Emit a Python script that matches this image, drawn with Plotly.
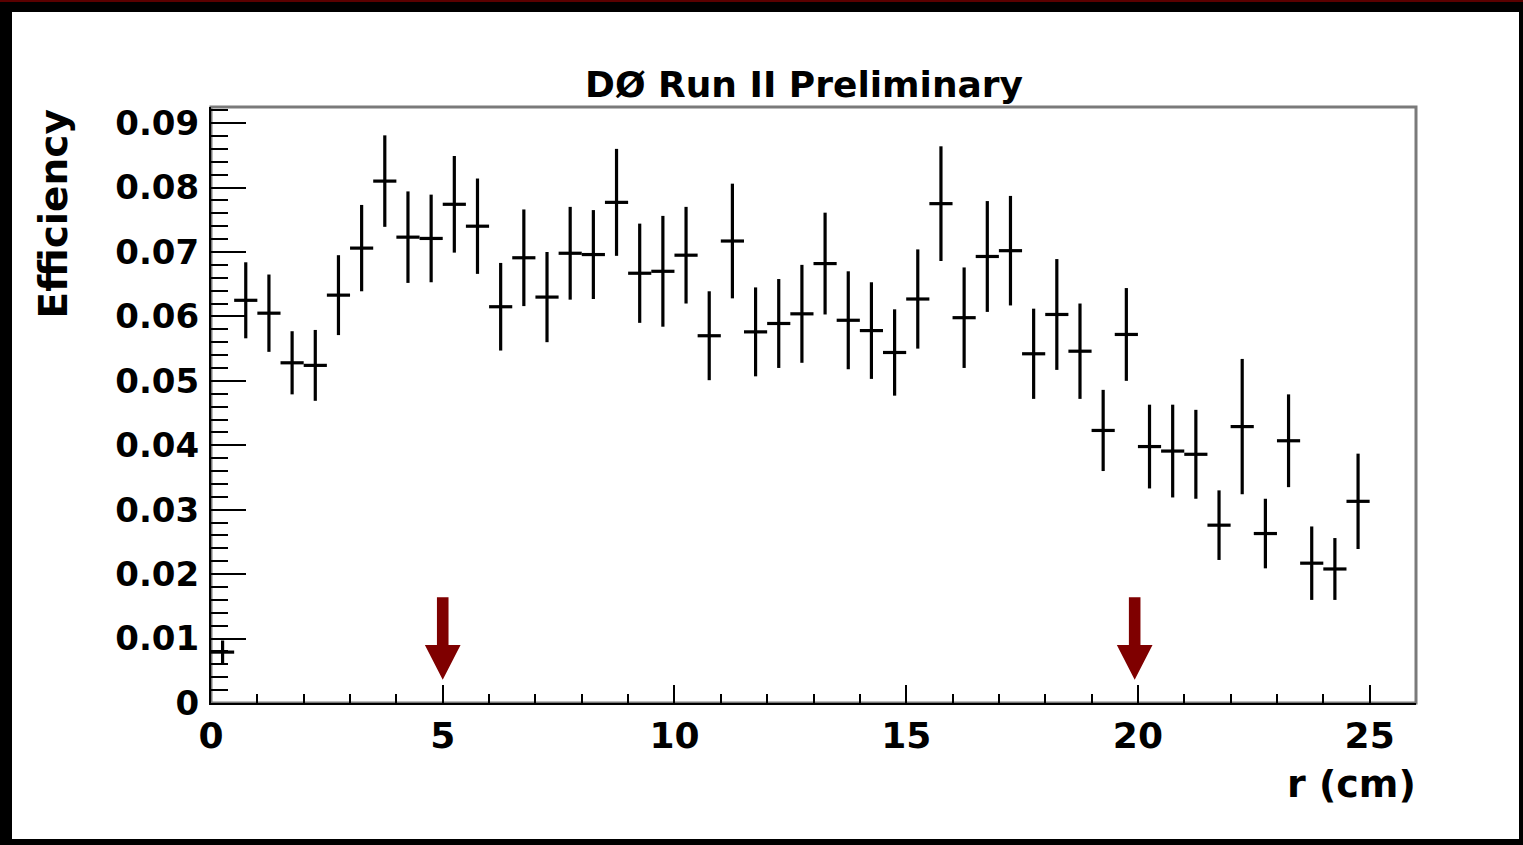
import plotly.graph_objects as go

# Bin centres of the radial distribution (cm), 0.5 cm bins
r_cm = [0.25, 0.75, 1.25, 1.75, 2.25, 2.75, 3.25, 3.75, 4.25, 4.75,
        5.25, 5.75, 6.25, 6.75, 7.25, 7.75, 8.25, 8.75, 9.25, 9.75,
        10.25, 10.75, 11.25, 11.75, 12.25, 12.75, 13.25, 13.75, 14.25, 14.75,
        15.25, 15.75, 16.25, 16.75, 17.25, 17.75, 18.25, 18.75, 19.25, 19.75,
        20.25, 20.75, 21.25, 21.75, 22.25, 22.75, 23.25, 23.75, 24.25, 24.75]
bin_half_width = [0.25] * len(r_cm)

efficiency = [0.0079, 0.0625, 0.0605, 0.0528, 0.0524, 0.0633, 0.0706, 0.0810, 0.0723, 0.0721,
              0.0774, 0.0740, 0.0615, 0.0691, 0.0630, 0.0698, 0.0696, 0.0777, 0.0667, 0.0670,
              0.0695, 0.0570, 0.0717, 0.0576, 0.0589, 0.0604, 0.0682, 0.0594, 0.0578, 0.0544,
              0.0627, 0.0775, 0.0598, 0.0693, 0.0702, 0.0542, 0.0603, 0.0546, 0.0423, 0.0572,
              0.0398, 0.0391, 0.0386, 0.0276, 0.0429, 0.0263, 0.0407, 0.0217, 0.0208, 0.0313]

efficiency_err = [0.0018, 0.0059, 0.0060, 0.0049, 0.0055, 0.0062, 0.0067, 0.0071, 0.0071, 0.0068,
                  0.0075, 0.0074, 0.0068, 0.0075, 0.0070, 0.0072, 0.0069, 0.0083, 0.0077, 0.0086,
                  0.0075, 0.0069, 0.0089, 0.0069, 0.0069, 0.0076, 0.0079, 0.0076, 0.0075, 0.0067,
                  0.0077, 0.0089, 0.0078, 0.0086, 0.0085, 0.0070, 0.0086, 0.0074, 0.0063, 0.0072,
                  0.0065, 0.0072, 0.0069, 0.0054, 0.0105, 0.0054, 0.0072, 0.0057, 0.0048, 0.0074]

# Radial cut positions marked with arrows (cm)
cut_positions = [5.0, 19.93]

x_ticks = [0, 5, 10, 15, 20, 25]
y_ticks = [0, 0.01, 0.02, 0.03, 0.04, 0.05, 0.06, 0.07, 0.08, 0.09]
y_tick_text = ["0", "0.01", "0.02", "0.03", "0.04", "0.05", "0.06", "0.07", "0.08", "0.09"]

W, H = 1523, 845
L, R, T, B = 211, 107, 107, 142
plot_w = W - L - R
plot_h = H - T - B


def px_x(px):
    return (px - L) / plot_w


def px_y(py):
    return (H - B - py) / plot_h


FONT = "DejaVu Sans"
DARK_RED = "#7f0000"

fig = go.Figure()
fig.add_trace(go.Scatter(
    x=r_cm, y=efficiency,
    mode="markers",
    marker=dict(size=1, color="black"),
    error_y=dict(type="data", array=efficiency_err, visible=True,
                 color="black", thickness=3.2, width=0),
    error_x=dict(type="data", array=bin_half_width, visible=True,
                 color="black", thickness=3.2, width=0),
    showlegend=False,
    hoverinfo="skip",
))

shapes = []
# grey frame around the plotting area
shapes.append(dict(type="rect", xref="paper", yref="paper", x0=0, x1=1, y0=0, y1=1,
                   line=dict(color="#7a7a7a", width=3), layer="below"))

# block arrows marking the cuts
shaft_hw, head_hw = 0.125, 0.385
y_top, y_neck, y_tip = 0.0164, 0.0090, 0.0036
for c in cut_positions:
    path = (f"M {c - shaft_hw},{y_top} L {c + shaft_hw},{y_top} L {c + shaft_hw},{y_neck} "
            f"L {c + head_hw},{y_neck} L {c},{y_tip} L {c - head_hw},{y_neck} "
            f"L {c - shaft_hw},{y_neck} Z")
    shapes.append(dict(type="path", xref="x", yref="y", path=path,
                       fillcolor=DARK_RED, line=dict(width=0), layer="above"))

# black canvas border with a thin dark-red rim on top
border = [
    (0, W, 0, 12, "black"),
    (0, 12, 0, H, "black"),
    (W - 4, W, 0, H, "black"),
    (0, W, H - 6, H, "black"),
    (0, W, 0, 2, "#5a0000"),
]
for x0, x1, y0, y1, col in border:
    shapes.append(dict(type="rect", xref="paper", yref="paper",
                       x0=px_x(x0), x1=px_x(x1), y0=px_y(y1), y1=px_y(y0),
                       fillcolor=col, line=dict(width=0), layer="above"))

annotations = [
    dict(text="DØ Run II Preliminary", xref="paper", yref="paper",
         x=px_x(804), y=px_y(84), xanchor="center", yanchor="middle",
         showarrow=False, font=dict(family=FONT, size=36, color="black", weight="bold")),
    dict(text="Efficiency", xref="paper", yref="paper",
         x=px_x(53), y=px_y(108), xanchor="center", yanchor="top", textangle=-90,
         showarrow=False, font=dict(family=FONT, size=39, color="black", weight="bold")),
    dict(text="r (cm)", xref="paper", yref="paper",
         x=px_x(1418), y=px_y(784), xanchor="right", yanchor="middle",
         showarrow=False, font=dict(family=FONT, size=38, color="black", weight="bold")),
]

fig.update_layout(
    width=W, height=H,
    margin=dict(l=L, r=R, t=T, b=B, pad=0),
    paper_bgcolor="white",
    plot_bgcolor="white",
    shapes=shapes,
    annotations=annotations,
    xaxis=dict(
        range=[0, 26], tickvals=x_ticks, ticks="inside", ticklen=18, tickwidth=2,
        tickcolor="black", showline=True, linecolor="black", linewidth=2,
        showgrid=False, zeroline=False, ticklabelstandoff=0,
        tickfont=dict(family=FONT, size=36, color="black", weight="bold"),
        minor=dict(dtick=1, ticks="inside", ticklen=9, tickwidth=2, tickcolor="black",
                   showgrid=False),
    ),
    yaxis=dict(
        range=[0, 0.0925], tickvals=y_ticks, ticktext=y_tick_text, ticks="inside",
        ticklen=35, tickwidth=2, tickcolor="black", showline=True, linecolor="black",
        linewidth=2, showgrid=False, zeroline=False, ticklabelstandoff=3,
        tickfont=dict(family=FONT, size=34, color="black", weight="bold"),
        minor=dict(tick0=0, dtick=0.002, ticks="inside", ticklen=17, tickwidth=2,
                   tickcolor="black", showgrid=False),
    ),
)

fig.write_html("out.html")
